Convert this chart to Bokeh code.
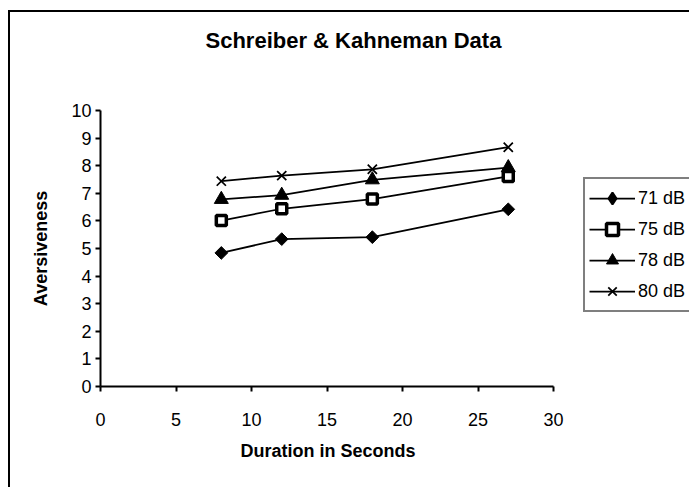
import math
from bokeh.plotting import figure
from bokeh.models import (Range1d, FixedTicker, Legend, LegendItem, InlineStyleSheet, Title)
from bokeh.embed import file_html
from bokeh.resources import INLINE

durations = [8, 12, 18, 27]
db71 = [4.84, 5.34, 5.41, 6.42]
db75 = [6.01, 6.44, 6.79, 7.61]
db78 = [6.78, 6.93, 7.49, 7.93]
db80 = [7.44, 7.64, 7.87, 8.67]
series_names = ["71 dB", "75 dB", "78 dB", "80 dB"]
x_ticks = [0, 5, 10, 15, 20, 25, 30]
y_ticks = [0, 1, 2, 3, 4, 5, 6, 7, 8, 9, 10]
chart_title = "Schreiber & Kahneman Data"
x_title = "Duration in Seconds"
y_title = "Aversiveness"

FONT = "Liberation Sans"

# frame spans x 100..689; the x axis itself covers 0..30 (453 px)
p = figure(width=689, height=487, output_backend="svg", toolbar_location=None,
           x_range=Range1d(0, 39.0), y_range=Range1d(0, 10),
           min_border_left=100, min_border_right=0, min_border_top=110,
           min_border_bottom=101, title_location=None)

# spacer between title and plot frame (nearest to frame)
spacer = Title(text=" ", text_font_size="1px", standoff=50)
p.add_layout(spacer, "above")
main_title = Title(text=chart_title, align="left", offset=105, standoff=10,
                   text_font=FONT, text_font_size="22px", text_font_style="bold",
                   text_color="black")
p.add_layout(main_title, "above")

p.outline_line_color = None
p.xgrid.visible = False
p.ygrid.visible = False
p.background_fill_color = "white"
p.border_fill_color = None

p.stylesheets = [InlineStyleSheet(css=""":host {
  background:
    linear-gradient(#000, #000) 8px 10px / 2px 477px no-repeat,
    linear-gradient(#000, #000) 8px 10px / 681px 2px no-repeat,
    #ffffff;
}""")]

for ax in (p.xaxis[0], p.yaxis[0]):
    ax.axis_line_color = "black"
    ax.axis_line_width = 2
    ax.major_tick_line_color = "black"
    ax.major_tick_line_width = 2
    ax.major_tick_in = 0
    ax.major_tick_out = 5
    ax.minor_tick_line_color = None
    ax.major_label_text_font = FONT
    ax.major_label_text_font_size = "18px"
    ax.major_label_text_color = "black"
    ax.axis_label_text_font = FONT
    ax.axis_label_text_font_size = "18px"
    ax.axis_label_text_font_style = "bold"
    ax.axis_label_text_color = "black"

p.xaxis.bounds = (0, 30)
p.xaxis.ticker = FixedTicker(ticks=x_ticks)
p.yaxis.ticker = FixedTicker(ticks=y_ticks)
p.yaxis.axis_label = y_title
p.xaxis.major_label_standoff = 21
p.yaxis.major_label_standoff = 4
p.yaxis.axis_label_standoff = 17

# x-axis title centred under the 0..30 span
xt = Title(text=x_title, align="left", offset=140, standoff=20,
           text_font=FONT, text_font_size="18px", text_font_style="bold",
           text_color="black")
p.add_layout(xt, "below")

items = []
l1 = p.line(durations, db71, line_color="black", line_width=1.75)
m1 = p.scatter(durations, db71, marker="square", angle=math.pi / 4, size=9,
               fill_color="black", line_color="black")
m1_key = p.scatter(durations, db71, marker="diamond", size=12, fill_color="black",
                   line_color="black", line_width=2, visible=False)
items.append(LegendItem(label=series_names[0], renderers=[l1, m1_key]))
l2 = p.line(durations, db75, line_color="black", line_width=1.75)
m2 = p.scatter(durations, db75, marker="square", size=10, fill_color="white",
               line_color="black", line_width=3.5)
items.append(LegendItem(label=series_names[1], renderers=[l2, m2]))
l3 = p.line(durations, db78, line_color="black", line_width=1.75)
m3 = p.scatter(durations, db78, marker="triangle", size=14, fill_color="black",
               line_color="black")
items.append(LegendItem(label=series_names[2], renderers=[l3, m3]))
l4 = p.line(durations, db80, line_color="black", line_width=1.75)
m4 = p.scatter(durations, db80, marker="x", size=13, fill_color=None,
               line_color="black", line_width=1.75)
items.append(LegendItem(label=series_names[3], renderers=[l4, m4]))

legend = Legend(items=items, location=(483, 74))
legend.label_text_font = FONT
legend.label_text_font_size = "18px"
legend.label_text_color = "black"
legend.border_line_color = "black"
legend.border_line_width = 2
legend.padding = 4
legend.spacing = 1
legend.glyph_width = 46
legend.glyph_height = 30
legend.label_height = 30
legend.label_standoff = 3
legend.margin = 0
legend.background_fill_color = "white"
p.add_layout(legend, "center")

open("out.html", "w").write(file_html(p, INLINE))
